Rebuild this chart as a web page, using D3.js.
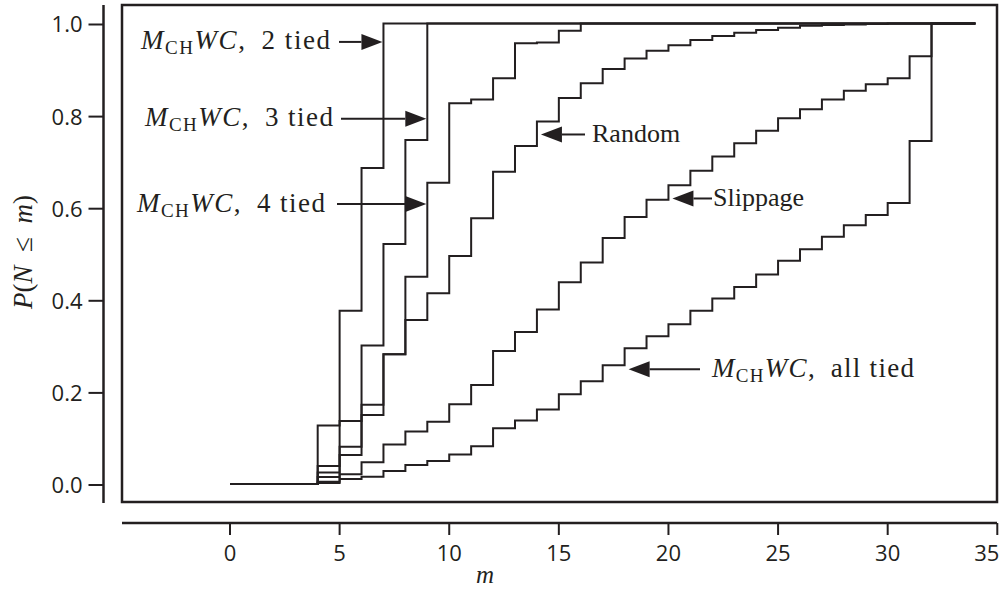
<!DOCTYPE html>
<html>
<head>
<meta charset="utf-8">
<script src="https://cdn.jsdelivr.net/npm/d3@7"></script>
<style>
  body { margin: 0; background: #fff; }
  svg { display: block; }
</style>
</head>
<body>
<div id="plot"></div>
<script>
// step positions m
var mVals = [0,1,2,3,4,5,6,7,8,9,10,11,12,13,14,15,16,17,18,19,20,21,22,23,24,25,26,27,28,29,30,31,32,33,34];

// P(N <= m) for each scheme, one value per m above
var twoTied   = [0,0,0,0,0.127,0.376,0.686,1,1,1,1,1,1,1,1,1,1,1,1,1,1,1,1,1,1,1,1,1,1,1,1,1,1,1,1];
var threeTied = [0,0,0,0,0.039,0.137,0.301,0.521,0.747,1,1,1,1,1,1,1,1,1,1,1,1,1,1,1,1,1,1,1,1,1,1,1,1,1,1];
var fourTied  = [0,0,0,0,0.025,0.081,0.172,0.282,0.450,0.654,0.827,0.835,0.881,0.957,0.959,0.984,1,1,1,1,1,1,1,1,1,1,1,1,1,1,1,1,1,1,1];
var randomSel = [0,0,0,0,0.015,0.063,0.150,0.282,0.356,0.414,0.495,0.577,0.678,0.734,0.787,0.838,0.870,0.901,0.924,0.941,0.953,0.964,0.973,0.980,0.986,0.991,0.995,0.997,0.998,0.999,1,1,1,1,1];
var slippage  = [0,0,0,0,0.005,0.021,0.047,0.086,0.114,0.135,0.173,0.215,0.289,0.330,0.379,0.438,0.481,0.534,0.580,0.617,0.649,0.680,0.711,0.740,0.767,0.794,0.814,0.835,0.854,0.868,0.881,0.929,1,1,1];
var allTied   = [0,0,0,0,0.002,0.011,0.016,0.028,0.041,0.050,0.064,0.082,0.121,0.138,0.162,0.195,0.223,0.258,0.295,0.321,0.347,0.376,0.403,0.428,0.455,0.485,0.510,0.537,0.562,0.584,0.610,0.745,1,1,1];

var xTicks = [0,5,10,15,20,25,30,35];
var yTicks = [0,0.2,0.4,0.6,0.8,1.0];

// labels and where their arrows point (m, P)
var labelNames = ["2 tied", "3 tied", "4 tied", "Random", "Slippage", "all tied"];
var labelMath  = [true, true, true, false, false, true];
var labelTipM  = [7, 9, 9, 14, 20, 18];
var labelTipP  = [0.960, 0.793, 0.608, 0.759, 0.620, 0.249];

var width = 1008, height = 592;
var frameLeft = 122, frameRight = 997, frameTop = 5, frameBottom = 502;

var svg = d3.select("#plot").append("svg")
    .attr("width", width)
    .attr("height", height);

svg.append("rect").attr("width", width).attr("height", height).attr("fill", "#fff");

var x = d3.scaleLinear().domain([0, 35]).range([230, 997.3]);
var y = d3.scaleLinear().domain([0, 1]).range([484, 23.5]);

var ink = "#231f20";

// frame
svg.append("rect")
    .attr("x", frameLeft).attr("y", frameTop)
    .attr("width", frameRight - frameLeft)
    .attr("height", frameBottom - frameTop)
    .attr("fill", "none")
    .attr("stroke", ink)
    .attr("stroke-width", 2.5);

// detached axes
var xAxis = svg.append("g").attr("transform", "translate(0,523)");
xAxis.append("line")
    .attr("x1", frameLeft).attr("x2", frameRight)
    .attr("stroke", ink).attr("stroke-width", 2.5);
xAxis.selectAll(".tick").data(xTicks).enter().append("line")
    .attr("x1", function(d){ return x(d); }).attr("x2", function(d){ return x(d); })
    .attr("y1", 0).attr("y2", 12)
    .attr("stroke", ink).attr("stroke-width", 2);
xAxis.selectAll(".lbl").data(xTicks).enter().append("text")
    .attr("x", function(d){ return x(d); })
    .attr("y", 38)
    .attr("text-anchor", function(d){ return d == 35 ? "end" : "middle"; })
    .attr("dx", function(d){ return d == 35 ? 2 : 0; })
    .style("font-family", "'Open Sans', sans-serif")
    .style("font-size", "22px")
    .attr("fill", ink)
    .text(function(d){ return d; });

var yAxis = svg.append("g").attr("transform", "translate(103.5,0)");
yAxis.append("line")
    .attr("y1", frameTop).attr("y2", frameBottom + 1)
    .attr("stroke", ink).attr("stroke-width", 2.5);
yAxis.selectAll(".tick").data(yTicks).enter().append("line")
    .attr("x1", -15).attr("x2", 0)
    .attr("y1", function(d){ return y(d) + 1; }).attr("y2", function(d){ return y(d) + 1; })
    .attr("stroke", ink).attr("stroke-width", 2);
yAxis.selectAll(".lbl").data(yTicks).enter().append("text")
    .attr("x", -21)
    .attr("y", function(d){ return y(d) + 1; })
    .attr("dy", "0.36em")
    .attr("text-anchor", "end")
    .style("font-family", "'Open Sans', sans-serif")
    .style("font-size", "22px")
    .attr("fill", ink)
    .text(function(d){ return d.toFixed(1); });

// axis titles
svg.append("text")
    .attr("x", 485).attr("y", 583)
    .attr("text-anchor", "middle")
    .style("font-family", "'Liberation Serif', serif")
    .style("font-style", "italic")
    .style("font-size", "25px")
    .attr("fill", ink)
    .text("m");

var ylab = svg.append("text")
    .attr("transform", "translate(32,252) rotate(-90)")
    .attr("text-anchor", "middle")
    .style("font-family", "'Liberation Serif', serif")
    .style("font-size", "27px")
    .attr("fill", ink);
ylab.append("tspan").style("font-style", "italic").text("P");
ylab.append("tspan").text("(");
ylab.append("tspan").style("font-style", "italic").text("N");
ylab.append("tspan").text("\u2002\u2264\u2002");
ylab.append("tspan").style("font-style", "italic").text("m");
ylab.append("tspan").text(")");

// step curves
var series = [twoTied, threeTied, fourTied, randomSel, slippage, allTied];
var line = d3.line()
    .x(function(d, i){ return x(mVals[i]); })
    .y(function(d){ return y(d); })
    .curve(d3.curveStepAfter);

svg.append("g").selectAll("path").data(series).enter().append("path")
    .attr("d", line)
    .attr("fill", "none")
    .attr("stroke", ink)
    .attr("stroke-width", 2);

// annotations with arrows
var tails  = [339, 341, 337, 585, 712, 700];
var textX  = [141, 145, 137, 592, 713, 712];
var textW  = [189, 188, 188, 0, 0, 202];
var onLeft = [true, true, true, false, false, false];

function arrow(x0, x1, yy) {
    var dir = x1 > x0 ? 1 : -1;
    var headLen = 21, headHalf = 8;
    svg.append("line")
        .attr("x1", x0).attr("x2", x1 - dir * headLen)
        .attr("y1", yy).attr("y2", yy)
        .attr("stroke", ink).attr("stroke-width", 2);
    svg.append("path")
        .attr("d", "M" + x1 + "," + yy +
                   "L" + (x1 - dir * headLen) + "," + (yy - headHalf) +
                   "L" + (x1 - dir * headLen) + "," + (yy + headHalf) + "Z")
        .attr("fill", ink);
}

labelNames.forEach(function(name, i) {
    var tipX = x(labelTipM[i]) + (onLeft[i] ? -1 : 4);
    var tipY = y(labelTipP[i]);
    arrow(tails[i], tipX, tipY);

    var t = svg.append("text")
        .attr("x", textX[i])
        .attr("y", tipY + 7.5)
        .style("font-family", "'Liberation Serif', serif")
        .attr("fill", ink);
    if (labelMath[i]) {
        t.style("font-size", "27px")
            .attr("textLength", textW[i])
            .attr("lengthAdjust", "spacing");
        t.append("tspan").style("font-style", "italic").text("M");
        t.append("tspan").style("font-size", "19px").attr("dy", 5).text("CH");
        t.append("tspan").style("font-style", "italic").attr("dy", -5).text("WC");
        t.append("tspan").text(",\u2002" + name);
    } else {
        t.style("font-size", "26px").text(name);
    }
});
</script>
</body>
</html>
